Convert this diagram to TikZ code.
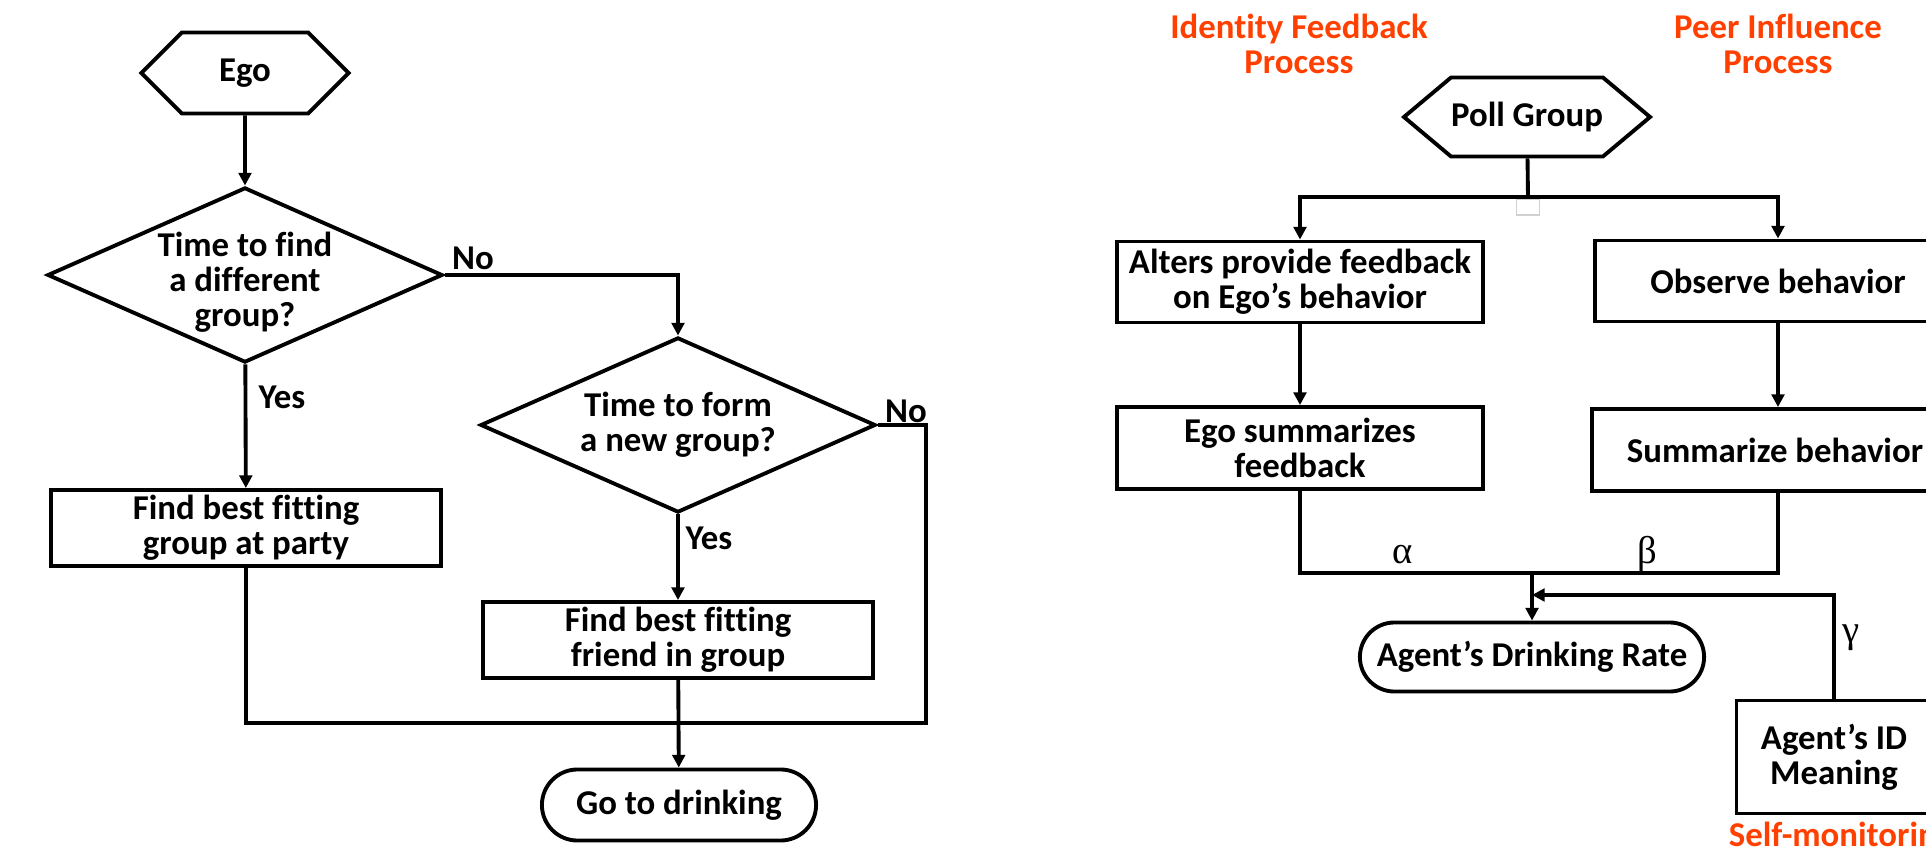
\documentclass[tikz,border=0pt]{standalone}
\usepackage{fontspec}
\setmainfont{Carlito}[Ligatures=NoCommon]
\newfontfamily\greekfont{Liberation Serif}
\usepackage{tikz}
\usetikzlibrary{arrows.meta,positioning,shapes.misc,shapes.symbols,shapes.geometric}
\definecolor{ProcColor}{HTML}{FF4000}
\definecolor{GhostGrey}{HTML}{D0D0D0}

\begin{document}
\begin{tikzpicture}[x=0.01cm,y=-0.01cm,line width=1.1pt,
  font=\bfseries\fontsize{9.9}{9.9}\selectfont,
  hexbox/.style={draw,shape=signal,signal to=east and west,signal pointer angle=90,inner sep=0pt},
  ask/.style={draw,diamond,inner sep=0pt,minimum width=3.95cm,minimum height=1.75cm},
  asktext/.style={align=center,inner sep=0pt},
  actbox/.style={draw,rectangle,inner sep=0pt,align=center},
  endbox/.style={draw,rounded rectangle,inner sep=0pt},
  lbl/.style={inner sep=0pt},
  greek/.style={inner sep=0pt,font=\greekfont\fontsize{11}{12}\selectfont},
  proc/.style={ProcColor,align=center,inner sep=0pt},
  arr/.style={-{Triangle[length=3.6pt,width=3.6pt]}}]
  \clip (0,0) rectangle (1926,851);
  % left: group choice
  \node[hexbox,minimum width=2.07cm,minimum height=0.81cm] (ego) at (245,73){Ego};
  \node[ask] (q1) at (245,275){};
  \node[asktext] (q1txt) at (245,282){Time to find\\a different\\group?};
  \node[ask] (q2) at (678,425){};
  \node[asktext] (q2txt) at (678,425){Time to form\\a new group?};
  \node[actbox,minimum width=3.89cm,minimum height=0.76cm] (grp) at (246,528){Find best fitting\\group at party};
  \node[actbox,minimum width=3.89cm,minimum height=0.76cm] (frd) at (678,640){Find best fitting\\friend in group};
  \node[endbox,minimum width=2.74cm,minimum height=0.71cm] (go) at (679,805){Go to drinking};
  \node[lbl] (no1) at (473,258){No};
  \node[lbl] (no2) at (906,411){No};
  \node[lbl] (yes1) at (282,397){Yes};
  \node[lbl] (yes2) at (709,538){Yes};
  \coordinate (mrgR) at (926,723);
  \draw[arr] (ego) -- (q1);
  \draw[arr] (q1.east) -| (q2);
  \draw[arr] (q1) -- (grp);
  \draw[arr] (q2) -- (frd);
  \draw (grp) |- (mrgR) |- (q2.east);
  \draw[arr] (frd) -- (go);
  % right: drinking rate
  \node[proc] (idf) at (1299,44){Identity Feedback\\Process};
  \node[proc] (pif) at (1778,44){Peer Influence\\Process};
  \node[hexbox,signal pointer angle=80,minimum width=2.38cm,minimum height=0.79cm] (poll) at (1527,117){Poll Group};
  \node[draw=GhostGrey,line width=0.4pt,minimum width=0.23cm,minimum height=0.16cm,inner sep=0pt] (ghost) at (1528,207){};
  \node[actbox,minimum width=3.65cm,minimum height=0.81cm] (alt) at (1300,282){Alters provide feedback\\on Ego’s behavior};
  \node[actbox,minimum width=3.65cm,minimum height=0.81cm] (obs) at (1778,281){Observe behavior};
  \node[actbox,minimum width=3.65cm,minimum height=0.82cm] (esum) at (1300,448){Ego summarizes\\feedback};
  \node[actbox,minimum width=3.65cm,minimum height=0.82cm] (bsum) at (1775,450){Summarize behavior};
  \node[endbox,minimum width=3.44cm,minimum height=0.69cm] (rate) at (1532,657){Agent’s Drinking Rate};
  \node[actbox,minimum width=1.95cm,minimum height=1.13cm] (idm) at (1834,757){Agent’s ID\\Meaning};
  \node[proc,anchor=base west] (smon) at (1727,846){Self-monitoring};
  \node[greek] (alpha) at (1403,555){α};
  \node[greek] (beta) at (1647,554){β};
  \node[greek] (gamma) at (1851,638){γ};
  \coordinate (split) at (1528,197);
  \coordinate (join) at (1532,573);
  \coordinate (fb) at (1532,595);
  \draw (poll) -- (split);
  \draw[arr] (split) -| (alt);
  \draw[arr] (split) -| (obs);
  \draw[arr] (alt) -- (esum);
  \draw[arr] (obs) -- (bsum.north -| obs);
  \draw (esum) |- (join) -| (bsum.south -| obs);
  \draw[arr] (join) -- (rate);
  \draw[arr] (idm) |- (fb);
\end{tikzpicture}
\end{document}
